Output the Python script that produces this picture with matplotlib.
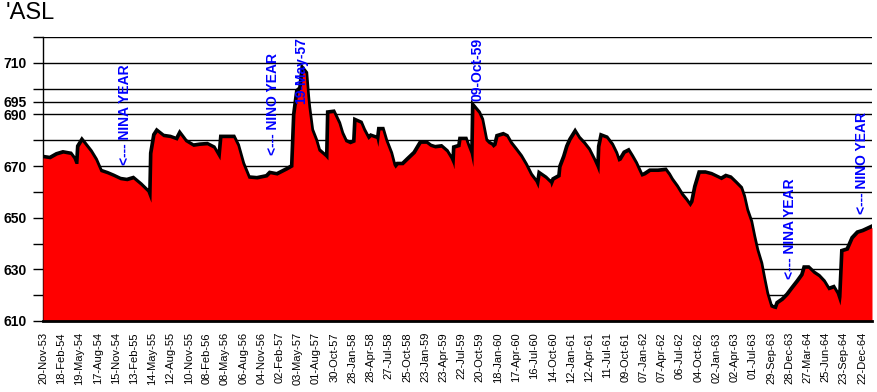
from datetime import datetime
import matplotlib
matplotlib.use('Agg')
import matplotlib.pyplot as plt

plt.rcParams['font.family'] = ['Liberation Sans', 'DejaVu Sans']

START = datetime(1953, 11, 20)

# lake level, feet ASL (x = days after 20-Nov-53)
day = [0, 35, 69, 99, 134, 148, 158, 173, 178, 193, 208, 232, 257, 282, 316, 346,
       381, 415, 445, 480, 514, 529, 534, 539, 554, 564, 593, 628, 663, 677, 702,
       742, 776, 811, 841, 875, 885, 940, 959, 984, 1014, 1058, 1108, 1123, 1157,
       1207, 1236, 1246, 1261, 1276, 1286, 1296, 1305, 1310, 1325, 1345, 1360,
       1375, 1394, 1409, 1414, 1434, 1459, 1474, 1493, 1518, 1543, 1548, 1568,
       1582, 1607, 1622, 1647, 1656, 1666, 1676, 1691, 1716, 1731, 1741, 1755,
       1780, 1805, 1840, 1869, 1894, 1914, 1938, 1968, 1993, 2013, 2027, 2032,
       2037, 2062, 2067, 2087, 2097, 2112, 2126, 2131, 2151, 2166, 2176, 2186,
       2201, 2215, 2225, 2240, 2250, 2275, 2290, 2309, 2334, 2359, 2383, 2408,
       2433, 2448, 2458, 2482, 2507, 2512, 2527, 2557, 2562, 2581, 2596, 2611,
       2631, 2646, 2670, 2695, 2720, 2735, 2749, 2754, 2764, 2784, 2809, 2829,
       2843, 2858, 2878, 2893, 2908, 2927, 2942, 2957, 2977, 3002, 3041, 3076,
       3091, 3105, 3130, 3155, 3175, 3199, 3214, 3229, 3249, 3274, 3303, 3338,
       3353, 3377, 3397, 3422, 3447, 3461, 3476, 3496, 3511, 3526, 3546, 3560,
       3575, 3595, 3610, 3625, 3635, 3659, 3684, 3709, 3734, 3758, 3768, 3783,
       3808, 3833, 3857, 3882, 3907, 3922, 3941, 3946, 3956, 3981, 4006, 4030,
       4055, 4080, 4099]
level = [673.2, 672.8, 674.3, 675.0, 674.5, 673.0, 671.0, 671.0, 677.6, 679.5,
         678.0, 675.6, 672.4, 667.9, 667.0, 666.0, 664.7, 664.3, 665.0, 662.7,
         660.1, 657.0, 656.0, 675.0, 682.0, 683.2, 681.4, 681.0, 680.0, 682.1,
         679.5, 677.6, 678.0, 678.2, 677.0, 672.4, 681.0, 681.0, 678.0, 671.0,
         665.3, 665.0, 665.8, 667.0, 666.5, 668.5, 669.8, 690.0, 699.0, 700.0,
         707.0, 706.0, 697.0, 693.0, 684.0, 680.0, 676.0, 675.0, 673.7, 672.4,
         690.5, 690.7, 686.6, 682.7, 679.5, 678.6, 679.4, 687.3, 686.6, 684.0,
         680.3, 681.4, 680.7, 677.6, 684.0, 684.0, 680.0, 675.0, 670.5, 669.2,
         670.5, 670.5, 672.4, 675.0, 678.8, 678.8, 677.6, 677.0, 677.3, 675.6,
         673.0, 670.5, 668.9, 677.0, 677.6, 680.2, 680.2, 678.0, 675.0, 669.8,
         692.5, 690.6, 688.0, 684.0, 680.0, 678.8, 678.2, 677.2, 678.2, 681.4,
         682.0, 681.4, 678.8, 676.3, 673.7, 670.5, 666.6, 664.0, 661.4, 666.6,
         665.3, 663.4, 661.8, 664.7, 666.0, 669.8, 673.7, 677.6, 680.2, 682.7,
         680.8, 678.8, 676.3, 672.4, 669.8, 667.0, 677.6, 681.4, 680.8, 678.2,
         675.0, 671.8, 672.4, 675.0, 675.6, 673.7, 671.1, 668.5, 666.0, 666.6,
         667.9, 667.9, 668.2, 666.6, 664.7, 662.0, 658.8, 656.9, 654.3, 656.2,
         662.0, 667.2, 667.2, 666.6, 665.3, 664.7, 665.8, 665.3, 663.4, 661.4,
         658.2, 653.0, 648.5, 642.7, 637.5, 632.3, 626.5, 620.7, 615.5, 615.0,
         614.7, 616.8, 618.1, 620.1, 622.7, 625.2, 627.8, 630.4, 630.4, 628.5,
         627.2, 625.2, 622.0, 622.7, 620.7, 616.2, 619.5, 636.9, 637.5, 642.0,
         644.0, 644.6, 645.5, 646.2]

date_labels = ['20-Nov-53', '18-Feb-54', '19-May-54', '17-Aug-54', '15-Nov-54',
               '13-Feb-55', '14-May-55', '12-Aug-55', '10-Nov-55', '08-Feb-56',
               '08-May-56', '06-Aug-56', '04-Nov-56', '02-Feb-57', '03-May-57',
               '01-Aug-57', '30-Oct-57', '28-Jan-58', '28-Apr-58', '27-Jul-58',
               '25-Oct-58', '23-Jan-59', '23-Apr-59', '22-Jul-59', '20-Oct-59',
               '18-Jan-60', '17-Apr-60', '16-Jul-60', '14-Oct-60', '12-Jan-61',
               '12-Apr-61', '11-Jul-61', '09-Oct-61', '07-Jan-62', '07-Apr-62',
               '06-Jul-62', '04-Oct-62', '02-Jan-63', '02-Apr-63', '01-Jul-63',
               '29-Sep-63', '28-Dec-63', '27-Mar-64', '25-Jun-64', '23-Sep-64',
               '22-Dec-64']

y_ticks = [610, 620, 630, 640, 650, 660, 670, 680, 690, 695, 700, 710, 720]
y_labeled = [610, 630, 650, 670, 690, 695, 710]

# blue notes: text, day, level
notes = [('<--- NINA YEAR', 405, 689.8),
         ('<--- NINO YEAR', 1137, 694.1),
         ('19-May-57', 1276, 706.9),
         ('09-Oct-59', 2149, 707.3),
         ('<--- NINA YEAR', 3694, 645.7),
         ('<--- NINO YEAR', 4050, 671.2)]


def to_day(s):
    d = datetime.strptime(s, '%d-%b-%y')
    if d.year > 2000:
        d = d.replace(year=d.year - 100)
    return (d - START).days


fig = plt.figure(figsize=(8.77, 3.92), dpi=100)
ax = fig.add_axes([43/877, 1 - 321/392, (872 - 43)/877, (321 - 37)/392])

ax.plot(day, level, color='black', lw=4.5, zorder=2, solid_joinstyle='miter')
ax.fill_between(day, 600, level, color='#ff0000', lw=0, zorder=3)

ax.set_xlim(0, 4099)
ax.set_ylim(610, 720)

ax.set_yticks(y_ticks)
ax.set_yticklabels([str(v) if v in y_labeled else '' for v in y_ticks],
                   fontsize=10, fontweight='bold')
ax.grid(axis='y', color='black', lw=1.0, zorder=1)
ax.tick_params(axis='y', length=7, width=1, pad=5)

ax.set_xticks([to_day(s) for s in date_labels])
ax.set_xticklabels(date_labels, rotation=90, fontsize=8, va='top', ha='center')
ax.tick_params(axis='x', length=0, pad=8)

for side in ['top', 'right']:
    ax.spines[side].set_visible(False)
ax.spines['left'].set_linewidth(1.0)
ax.spines['bottom'].set_linewidth(2.0)
ax.spines['bottom'].set_zorder(5)

for txt, d, v in notes:
    ax.text(d, v, txt, rotation=90, color='#0000ff', fontsize=10, fontweight='bold',
            ha='center', va='center', zorder=6)

fig.text(0.006, 0.995, "'ASL", fontsize=17, va='top', ha='left')

fig.savefig('out.png', dpi=100)
